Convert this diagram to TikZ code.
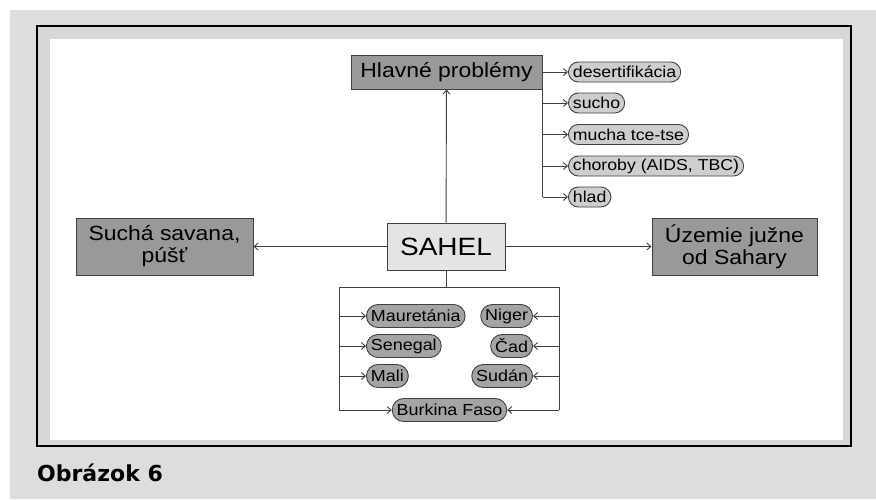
\documentclass[tikz,border=0pt]{standalone}
\usepackage{fontspec}
\setmainfont[FakeStretch=1.12]{Liberation Sans}
\newfontfamily\capfont{DejaVu Sans}
\usetikzlibrary{arrows.meta}
\definecolor{pagegray}{HTML}{DCDDDF}
\definecolor{bandgray}{HTML}{D8D8D8}
\definecolor{boxgray}{HTML}{999999}
\definecolor{sahelgray}{HTML}{E4E4E4}
\definecolor{pilllight}{HTML}{CECECE}
\definecolor{pilldark}{HTML}{A4A4A4}
\definecolor{linegray}{HTML}{404040}
\begin{document}
\begin{tikzpicture}[x=1pt,y=-1pt]
		\tikzset{box/.style = {shape=rectangle, draw=linegray, line width=1pt, fill=boxgray, align=center, inner sep=2pt, font=\fontsize{20.5}{22}\selectfont},
			pill/.style = {shape=rectangle, rounded corners=10pt, draw=linegray, line width=0.9pt, fill=pilllight, minimum height=20pt, inner xsep=4.5pt, inner ysep=0pt, font=\fontsize{15.8}{17}\selectfont},
			country/.style = {pill, fill=pilldark, rounded corners=11.5pt, minimum height=23pt, font=\fontsize{16}{18}\selectfont},
			link/.style = {draw=linegray, line width=0.9pt},
			arrow/.style = {link, -{Straight Barb[length=4pt,width=7pt]}}}

		\useasboundingbox (0,0) rectangle (876,499);
		\fill[white] (0,0) rectangle (876,499);
		\fill[pagegray] (10,10) rectangle (876,499);
		\fill[bandgray] (37,26) rectangle (851,446);
		\fill[white] (50,39) rectangle (843,440);
		\draw[line width=1.2pt] (37,26) rectangle (851,446);
		\node[anchor=base west, inner sep=0pt, font=\capfont\bfseries\fontsize{22}{24}\selectfont] (cap) at (37,481) {Obrázok 6};

		\node[box, fill=sahelgray, minimum width=118pt, minimum height=47pt, font=\fontsize{25}{27}\selectfont] (S) at (446,246.5) {SAHEL};
		\node[box, minimum width=191pt, minimum height=34pt] (H) at (446.5,72) {Hlavné problémy};
		\node[box, minimum width=177pt, minimum height=57pt] (W) at (164.5,246.5) {Suchá savana,\\púšť};
		\node[box, minimum width=165pt, minimum height=57pt] (E) at (734.5,246.5) {Územie južne\\od Sahary};

		\node[pill, anchor=west] (P_1) at (568,72) {desertifikácia};
		\node[pill, anchor=west] (P_2) at (568,103) {sucho};
		\node[pill, anchor=west] (P_3) at (568,134.5) {mucha tce-tse};
		\node[pill, anchor=west] (P_4) at (568,166) {choroby (AIDS, TBC)};
		\node[pill, anchor=west] (P_5) at (568,197) {hlad};

		\node[country, anchor=west] (L_1) at (366,316) {Mauretánia};
		\node[country, anchor=west] (L_2) at (366,346) {Senegal};
		\node[country, anchor=west] (L_3) at (366,376) {Mali};
		\node[country, anchor=east] (R_1) at (533,316) {Niger};
		\node[country, anchor=east] (R_2) at (533,346) {Čad};
		\node[country, anchor=east] (R_3) at (533,376) {Sudán};
		\node[country] (B_1) at (449.5,410) {Burkina Faso};

		\coordinate (bl) at (339,287);
		\coordinate (br) at (559,287);

		\draw[arrow] (S) -- (H);
		\draw[arrow] (S) -- (W);
		\draw[arrow] (S) -- (E);

		\draw[arrow] (H.east) -- (P_1.west);
		\draw[link] (H.south east) -- (H.east |- P_5.west);
		\foreach \i in {2,...,5}
			\draw[arrow] (H.east |- P_\i.west) -- (P_\i.west);

		\draw[link] (S.south) -- (S.south |- bl);
		\draw[link] (bl) -- (br);
		\draw[link] (bl) -- (bl |- B_1.west);
		\draw[link] (br) -- (br |- B_1.east);
		\foreach \i in {1,2,3} {
			\draw[arrow] (bl |- L_\i.west) -- (L_\i.west);
			\draw[arrow] (br |- R_\i.east) -- (R_\i.east);
		}
		\draw[arrow] (bl |- B_1.west) -- (B_1.west);
		\draw[arrow] (br |- B_1.east) -- (B_1.east);

	\end{tikzpicture}
\end{document}
